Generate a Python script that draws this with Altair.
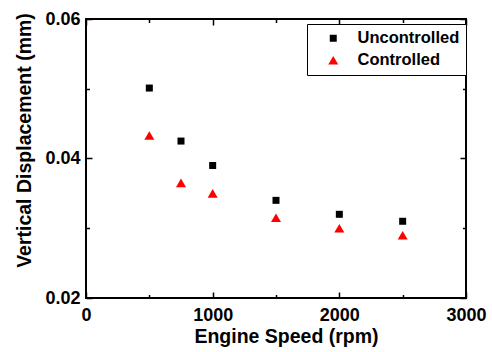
import altair as alt
import pandas as pd

speeds = [500, 750, 1000, 1500, 2000, 2500]
uncontrolled = [0.0501, 0.0425, 0.0390, 0.0340, 0.0320, 0.0310]
controlled = [0.0433, 0.0365, 0.0350, 0.0315, 0.0300, 0.0290]
series_names = ["Uncontrolled", "Controlled"]
x_ticks = [0, 500, 1000, 1500, 2000, 2500, 3000]
y_ticks = [0.02, 0.03, 0.04, 0.05, 0.06]

rows = []
for s, u, c in zip(speeds, uncontrolled, controlled):
    rows.append({"speed": s, "disp": u, "series": "Uncontrolled"})
    rows.append({"speed": s, "disp": c, "series": "Controlled"})
df = pd.DataFrame(rows)

W, H = 380, 279
FONT = "Liberation Sans"

xscale = alt.Scale(domain=[0, 3000], nice=False)
yscale = alt.Scale(domain=[0.02, 0.06], nice=False, zero=False)

x_major = "datum.value % 1000 === 0"
y_major = "round(datum.value * 100) % 2 === 0"
x_tick_size = {"condition": {"test": x_major, "value": 6}, "value": 3.5}
y_tick_size = {"condition": {"test": y_major, "value": 6}, "value": 3.5}


def tick_layer(x_orient, y_orient):
    return alt.Chart(df).mark_point(opacity=0).encode(
        x=alt.X("speed:Q", scale=xscale, title=None,
                axis=alt.Axis(orient=x_orient, offset=-H, values=x_ticks, labels=False,
                              domain=False, grid=False, tickSize=x_tick_size,
                              tickWidth=1.5, tickColor="black")),
        y=alt.Y("disp:Q", scale=yscale, title=None,
                axis=alt.Axis(orient=y_orient, offset=-W, values=y_ticks, labels=False,
                              domain=False, grid=False, tickSize=y_tick_size,
                              tickWidth=1.5, tickColor="black")),
    )


ticks_a = tick_layer("top", "right")    # sits at bottom/left, ticks inward
ticks_b = tick_layer("bottom", "left")  # sits at top/right, ticks inward

main = alt.Chart(df).mark_point(filled=True, opacity=1, strokeWidth=0).encode(
    x=alt.X("speed:Q", scale=xscale, title="Engine Speed (rpm)",
            axis=alt.Axis(orient="bottom", values=x_ticks,
                          labelExpr=f"{x_major} ? datum.label : ''", format="d",
                          ticks=False, tickSize=0, domain=False, grid=False,
                          labelFlush=False, labelOverlap=False,
                          labelPadding=8, labelFontSize=18, labelFontWeight="bold",
                          labelFont=FONT, labelColor="black",
                          titleFont=FONT, titleFontSize=19.5, titleFontWeight="bold",
                          titleColor="black", titleX=200, titleY=44,
                          titleBaseline="alphabetic", titleAlign="center")),
    y=alt.Y("disp:Q", scale=yscale, title="Vertical Displacement (mm)",
            axis=alt.Axis(orient="left", values=y_ticks,
                          labelExpr=f"{y_major} ? datum.label : ''", format=".2f",
                          ticks=False, tickSize=0, domain=False, grid=False,
                          labelFlush=False, labelOverlap=False,
                          labelPadding=6, labelFontSize=18, labelFontWeight="bold",
                          labelFont=FONT, labelColor="black",
                          titleFont=FONT, titleFontSize=19.5, titleFontWeight="bold",
                          titleColor="black", titleX=-56, titleY=121,
                          titleBaseline="alphabetic", titleAlign="center", titleAngle=-90)),
    shape=alt.Shape("series:N", scale=alt.Scale(domain=series_names, range=["square", "triangle-up"]),
                    legend=alt.Legend(title=None)),
    color=alt.Color("series:N", scale=alt.Scale(domain=series_names, range=["black", "#ff0000"]),
                    legend=alt.Legend(title=None)),
    size=alt.Size("series:N", scale=alt.Scale(domain=series_names, range=[49, 100]),
                  legend=alt.Legend(title=None)),
)

chart = alt.layer(ticks_a, ticks_b, main).resolve_axis(
    x="independent", y="independent"
).properties(
    width=W, height=H,
    autosize="none",
    padding={"left": 86, "top": 19, "right": 26, "bottom": 54},
    background="white",
).configure_view(
    stroke="black", strokeWidth=2
).configure_legend(
    orient="none", legendX=221, legendY=5,
    strokeColor="black", fillColor="white", padding=6,
    labelFont=FONT, labelFontSize=16.5, labelFontWeight="bold", labelColor="black",
    labelOffset=16, symbolOffset=12, rowPadding=5, symbolStrokeWidth=0,
)

chart.save("out.html", embed_options={"renderer": "svg", "actions": False})
